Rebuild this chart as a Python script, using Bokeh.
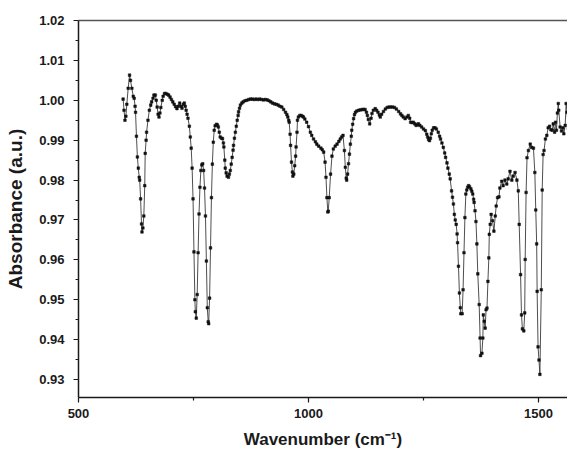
from bokeh.plotting import figure
from bokeh.models import FixedTicker, PrintfTickFormatter, LinearAxis, Range1d
from bokeh.embed import file_html
from bokeh.resources import INLINE

wavenumber = [597, 599, 601, 603, 605, 608, 611, 613, 616, 619, 621, 623, 624, 626, 628, 630, 632, 633, 635, 637,
              638, 640, 642, 644, 645, 647, 648, 651, 654, 657, 659, 662, 664, 667, 669, 671, 673, 675, 677, 679,
              682, 684, 687, 690, 693, 696, 699, 702, 705, 708, 711, 714, 717, 720, 723, 725, 728, 730, 732, 734,
              736, 738, 741, 743, 745, 747, 749, 751, 753, 754, 756, 758, 760, 762, 764, 766, 768, 770, 772, 774,
              776, 778, 780, 782, 783, 785, 787, 789, 791, 793, 795, 797, 800, 802, 804, 806, 808, 811, 813, 815,
              816, 818, 819, 821, 823, 826, 828, 830, 832, 834, 836, 837, 839, 841, 843, 845, 847, 848, 850, 852,
              855, 858, 862, 866, 870, 874, 878, 882, 886, 890, 894, 898, 902, 906, 910, 914, 918, 922, 926, 930,
              934, 938, 942, 946, 950, 953, 955, 957, 958, 960, 961, 963, 965, 966, 968, 970, 972, 973, 975, 976,
              978, 981, 984, 987, 989, 992, 996, 1000, 1004, 1007, 1011, 1015, 1018, 1022, 1027, 1030, 1033, 1036,
              1038, 1040, 1042, 1043, 1045, 1048, 1051, 1054, 1058, 1062, 1066, 1069, 1072, 1075, 1078, 1080, 1082,
              1083, 1085, 1087, 1089, 1091, 1093, 1094, 1096, 1098, 1100, 1102, 1105, 1109, 1113, 1117, 1120, 1123,
              1126, 1128, 1130, 1133, 1136, 1138, 1141, 1145, 1148, 1151, 1154, 1156, 1159, 1163, 1167, 1171, 1175,
              1179, 1183, 1187, 1191, 1196, 1200, 1203, 1206, 1210, 1214, 1217, 1220, 1222, 1225, 1228, 1231, 1234,
              1237, 1239, 1242, 1246, 1250, 1254, 1257, 1259, 1261, 1263, 1265, 1267, 1269, 1272, 1275, 1278, 1282,
              1285, 1287, 1290, 1293, 1296, 1298, 1301, 1303, 1306, 1308, 1311, 1313, 1315, 1317, 1319, 1321, 1323,
              1324, 1326, 1328, 1330, 1331, 1334, 1336, 1338, 1340, 1342, 1344, 1346, 1348, 1350, 1353, 1355, 1357,
              1359, 1360, 1362, 1364, 1366, 1368, 1371, 1373, 1374, 1377, 1379, 1380, 1382, 1384, 1386, 1388, 1390,
              1392, 1393, 1395, 1397, 1400, 1403, 1406, 1408, 1411, 1414, 1416, 1420, 1423, 1427, 1431, 1434, 1438,
              1442, 1445, 1449, 1453, 1456, 1458, 1461, 1463, 1465, 1468, 1470, 1471, 1473, 1475, 1478, 1482, 1485,
              1489, 1492, 1494, 1496, 1497, 1499, 1501, 1503, 1506, 1508, 1510, 1512, 1515, 1518, 1521, 1524, 1527,
              1530, 1532, 1535, 1537, 1539, 1541, 1543, 1544, 1547, 1550, 1553, 1555, 1558, 1560, 1562, 1565, 1568,
              1570, 1572, 1574, 1575, 1578, 1581]

absorbance = [1.0003, 0.9975, 0.9950, 0.9960, 0.9990, 1.0030, 1.0063, 1.0050, 1.0030, 1.0010, 1.0005, 0.9985, 0.9970,
              0.9910, 0.9858, 0.9830, 0.9807, 0.9800, 0.9753, 0.9690, 0.9670, 0.9680, 0.9710, 0.9786, 0.9867, 0.9900,
              0.9920, 0.9950, 0.9975, 0.9988, 0.9996, 1.0005, 1.0013, 1.0013, 1.0000, 0.9983, 0.9965, 0.9958, 0.9968,
              0.9982, 1.0000, 1.0010, 1.0017, 1.0017, 1.0015, 1.0013, 1.0008, 1.0002, 0.9996, 0.9990, 0.9984, 0.9979,
              0.9985, 0.9993, 0.9985, 0.9980, 0.9990, 0.9993, 0.9985, 0.9975, 0.9965, 0.9955, 0.9935, 0.9908, 0.9880,
              0.9830, 0.9753, 0.9620, 0.9500, 0.9470, 0.9454, 0.9513, 0.9618, 0.9715, 0.9782, 0.9824, 0.9838, 0.9841,
              0.9824, 0.9780, 0.9710, 0.9597, 0.9480, 0.9445, 0.9440, 0.9504, 0.9630, 0.9756, 0.9840, 0.9895, 0.9925,
              0.9936, 0.9940, 0.9938, 0.9933, 0.9920, 0.9908, 0.9905, 0.9904, 0.9893, 0.9883, 0.9850, 0.9830, 0.9818,
              0.9810, 0.9807, 0.9815, 0.9824, 0.9840, 0.9857, 0.9875, 0.9887, 0.9905, 0.9920, 0.9935, 0.9950, 0.9962,
              0.9971, 0.9980, 0.9988, 0.9993, 0.9996, 0.9999, 1.0000, 1.0002, 1.0003, 1.0003, 1.0002, 1.0003, 1.0002,
              1.0003, 1.0002, 1.0001, 1.0002, 1.0001, 0.9999, 0.9996, 0.9993, 0.9991, 0.9990, 0.9988, 0.9985, 0.9983,
              0.9977, 0.9970, 0.9964, 0.9958, 0.9950, 0.9945, 0.9915, 0.9887, 0.9845, 0.9820, 0.9810, 0.9815, 0.9836,
              0.9860, 0.9883, 0.9920, 0.9950, 0.9958, 0.9962, 0.9962, 0.9960, 0.9958, 0.9953, 0.9945, 0.9934, 0.9920,
              0.9912, 0.9903, 0.9896, 0.9890, 0.9885, 0.9880, 0.9876, 0.9870, 0.9845, 0.9807, 0.9756, 0.9720, 0.9722,
              0.9756, 0.9815, 0.9860, 0.9878, 0.9885, 0.9890, 0.9897, 0.9903, 0.9908, 0.9912, 0.9874, 0.9832, 0.9805,
              0.9800, 0.9815, 0.9841, 0.9865, 0.9890, 0.9910, 0.9925, 0.9940, 0.9954, 0.9964, 0.9970, 0.9973, 0.9975,
              0.9976, 0.9977, 0.9977, 0.9977, 0.9970, 0.9962, 0.9952, 0.9941, 0.9955, 0.9967, 0.9975, 0.9979, 0.9975,
              0.9970, 0.9963, 0.9958, 0.9965, 0.9972, 0.9978, 0.9982, 0.9983, 0.9983, 0.9983, 0.9982, 0.9978, 0.9972,
              0.9966, 0.9962, 0.9958, 0.9954, 0.9958, 0.9962, 0.9955, 0.9945, 0.9944, 0.9945, 0.9941, 0.9937, 0.9939,
              0.9941, 0.9937, 0.9933, 0.9928, 0.9924, 0.9915, 0.9908, 0.9902, 0.9899, 0.9905, 0.9916, 0.9925, 0.9931,
              0.9931, 0.9928, 0.9920, 0.9910, 0.9903, 0.9893, 0.9882, 0.9868, 0.9857, 0.9843, 0.9830, 0.9815, 0.9803,
              0.9773, 0.9757, 0.9740, 0.9714, 0.9700, 0.9689, 0.9665, 0.9643, 0.9584, 0.9517, 0.9480, 0.9465, 0.9465,
              0.9525, 0.9618, 0.9706, 0.9765, 0.9775, 0.9782, 0.9786, 0.9783, 0.9778, 0.9772, 0.9765, 0.9752, 0.9744,
              0.9723, 0.9696, 0.9640, 0.9565, 0.9488, 0.9404, 0.9360, 0.9366, 0.9404, 0.9462, 0.9446, 0.9429, 0.9475,
              0.9479, 0.9546, 0.9605, 0.9664, 0.9689, 0.9714, 0.9698, 0.9672, 0.9710, 0.9735, 0.9756, 0.9758, 0.9780,
              0.9797, 0.9786, 0.9800, 0.9790, 0.9803, 0.9822, 0.9800, 0.9810, 0.9819, 0.9800, 0.9773, 0.9689, 0.9563,
              0.9462, 0.9427, 0.9422, 0.9467, 0.9601, 0.9769, 0.9856, 0.9874, 0.9890, 0.9882, 0.9880, 0.9819, 0.9725,
              0.9640, 0.9521, 0.9382, 0.9349, 0.9313, 0.9525, 0.9775, 0.9864, 0.9874, 0.9903, 0.9912, 0.9931, 0.9935,
              0.9926, 0.9925, 0.9941, 0.9920, 0.9945, 0.9925, 0.9968, 0.9992, 0.9975, 0.9933, 0.9923, 0.9931, 0.9916,
              0.9937, 0.9992, 0.9970, 0.9929, 0.9899, 0.9883, 0.9827, 0.9756, 0.9731, 0.9720, 0.9725]

x_major = [500, 1000, 1500]
x_minor = [750, 1250]
y_major = [0.93, 0.94, 0.95, 0.96, 0.97, 0.98, 0.99, 1.00, 1.01, 1.02]
y_minor = [0.935, 0.945, 0.955, 0.965, 0.975, 0.985, 0.995, 1.005, 1.015]

FONT = "Liberation Sans"
INK = "#1a1a1a"

p = figure(width=567, height=451, output_backend="svg", toolbar_location=None,
           x_range=Range1d(500, 1563), y_range=Range1d(0.9255, 1.02),
           min_border_left=78, min_border_right=0, min_border_top=20, min_border_bottom=53)
p.outline_line_color = None
p.xgrid.visible = False
p.ygrid.visible = False
p.background_fill_color = "white"
p.border_fill_color = "white"

p.line(wavenumber, absorbance, line_color="#3a3a3a", line_width=0.9)
p.scatter(wavenumber, absorbance, marker="square", size=2.6, fill_color="#111111", line_color="#111111",
          line_width=0.5)

for ax in (p.xaxis[0], p.yaxis[0]):
    ax.axis_line_color = INK
    ax.axis_line_width = 1.5
    ax.major_tick_line_color = INK
    ax.minor_tick_line_color = INK
    ax.major_tick_line_width = 1.2
    ax.minor_tick_line_width = 1.2
    ax.major_tick_out = 5
    ax.major_tick_in = 0
    ax.minor_tick_out = 3
    ax.minor_tick_in = 0
    ax.major_label_text_font = FONT
    ax.major_label_text_font_style = "bold"
    ax.major_label_text_font_size = "13px"
    ax.major_label_text_color = INK
    ax.axis_label_text_font = FONT
    ax.axis_label_text_font_style = "bold"
    ax.axis_label_text_color = INK

p.xaxis[0].ticker = FixedTicker(ticks=x_major, minor_ticks=x_minor)
p.yaxis[0].ticker = FixedTicker(ticks=y_major, minor_ticks=y_minor)
p.yaxis[0].formatter = PrintfTickFormatter(format="%.2f")
p.xaxis[0].axis_label = "Wavenumber (cm⁻¹)"
p.yaxis[0].axis_label = "Absorbance (a.u.)"
p.xaxis[0].axis_label_text_font_size = "17px"
p.yaxis[0].axis_label_text_font_size = "19px"
p.xaxis[0].major_label_standoff = 6
p.xaxis[0].axis_label_standoff = 9
p.yaxis[0].major_label_standoff = 9
p.yaxis[0].axis_label_standoff = 10

top = LinearAxis(major_tick_line_color=None, minor_tick_line_color=None,
                 major_label_text_font_size="0px", axis_line_color="#555555", axis_line_width=1.5,
                 ticker=FixedTicker(ticks=[]))
p.add_layout(top, "above")

open("out.html", "w").write(file_html(p, INLINE))
